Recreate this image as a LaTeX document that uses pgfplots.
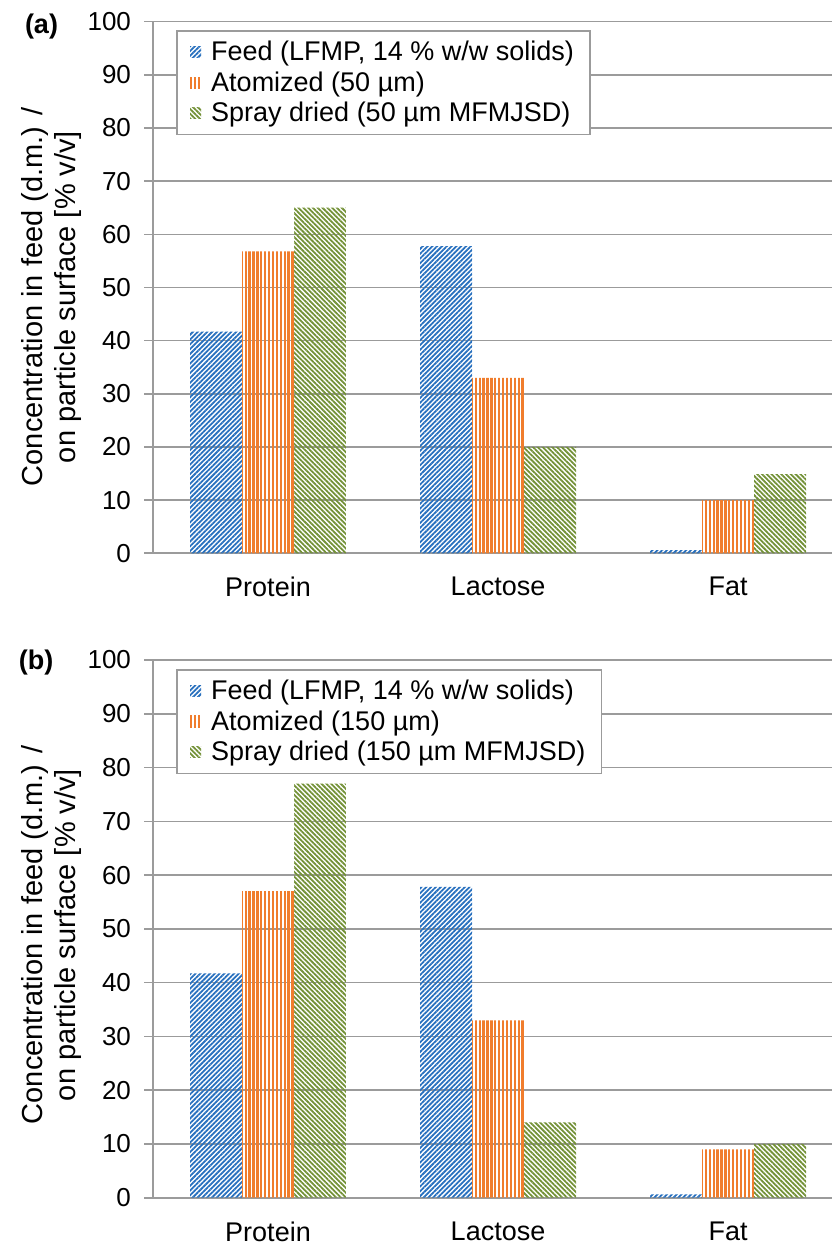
\documentclass[border=0pt]{standalone}
\usepackage{fontspec}
\setmainfont{Liberation Sans}
\usepackage{pgfplots}
\pgfplotsset{compat=1.18}
\usetikzlibrary{patterns.meta}
\definecolor{cblue}{RGB}{40,112,190}
\definecolor{corange}{RGB}{240,125,45}
\definecolor{cgreen}{RGB}{115,145,55}
\definecolor{cgrid}{RGB}{155,155,155}
\pgfplotsset{
  mybar/.style={
    scale only axis, width=339.5pt,
    xmin=-0.5, xmax=2.452, ymin=0, ymax=100,
    ybar=0pt, bar width=0.226,
    ytick={0,10,...,100},
    xtick={0,1,2}, xticklabels={Protein,Lactose,Fat},
    ymajorgrids, grid style={cgrid, line width=0.8pt},
    axis lines*=left,
    axis line style={cgrid, line width=0.8pt},
    x axis line style={cgrid, line width=0.8pt},
    tick align=outside,
    major tick length=4.5pt,
    ytick style={cgrid, line width=0.8pt},
    xtick style={draw=none},
    /pgf/number format/assume math mode=true,
    yticklabel style={font=\fontsize{13}{15}\selectfont, xshift=-3pt},
    xticklabel style={font=\fontsize{13.5}{16}\selectfont, yshift=-4pt},
    legend cell align=left,
    legend style={anchor=north west, draw=cgrid, line width=0.8pt, fill=white,
      font=\fontsize{13.5}{16}\selectfont, inner xsep=6.7pt, inner ysep=3pt,
      nodes={inner xsep=1.3pt, inner ysep=2pt},
      /tikz/every odd column/.append style={column sep=3.7pt}},
    legend image code/.code={\path[#1,draw=none] (0pt,-2.7pt) rectangle (5.5pt,2.9pt);},
  },
  pblue/.style={draw=none, pattern={Lines[angle=45,distance=1.7pt,line width=0.9pt]}, pattern color=cblue, bar shift=-0.226},
  porange/.style={draw=none, pattern={Lines[angle=90,distance=1.95pt,line width=1.15pt]}, pattern color=corange, bar shift=0},
  pgreen/.style={draw=none, pattern={Lines[angle=-45,distance=1.7pt,line width=0.9pt]}, pattern color=cgreen, bar shift=0.226},
}
\begin{document}
\begin{tikzpicture}
\useasboundingbox (0,0) rectangle (416pt,623pt);
% panel (a)
\begin{axis}[mybar, at={(76.5pt,346.35pt)}, anchor=south west, height=265.8pt,
  legend style={at={(0.0339,0.984)}}]
\addplot[pblue] coordinates {(0,41.7) (1,57.8) (2,0.6)};
\addplot[porange] coordinates {(0,56.8) (1,33) (2,10)};
\addplot[pgreen] coordinates {(0,65) (1,20) (2,14.9)};
\legend{{Feed (LFMP, 14 \% w/w solids)},{Atomized (50 µm)},{Spray dried (50 µm MFMJSD)}}
\end{axis}
% panel (b)
\begin{axis}[mybar, at={(76.5pt,24.15pt)}, anchor=south west, height=268.85pt,
  legend style={at={(0.0339,0.983)}}]
\addplot[pblue] coordinates {(0,41.7) (1,57.8) (2,0.6)};
\addplot[porange] coordinates {(0,57) (1,33) (2,9)};
\addplot[pgreen] coordinates {(0,77) (1,14) (2,10)};
\legend{{Feed (LFMP, 14 \% w/w solids)},{Atomized (150 µm)},{Spray dried (150 µm MFMJSD)}}
\end{axis}
\node[font=\bfseries\fontsize{13.5}{16}\selectfont] at (20.75pt,609.5pt) {(a)};
\node[font=\bfseries\fontsize{13.5}{16}\selectfont] at (18pt,291.5pt) {(b)};
\node[rotate=90, align=center, font=\fontsize{14.5}{16.5}\selectfont] at (26pt,474.5pt)
  {Concentration in feed (d.m.) /\\on particle surface [\% v/v]};
\node[rotate=90, align=center, font=\fontsize{14.5}{16.5}\selectfont] at (26pt,155.5pt)
  {Concentration in feed (d.m.) /\\on particle surface [\% v/v]};
\end{tikzpicture}
\end{document}
